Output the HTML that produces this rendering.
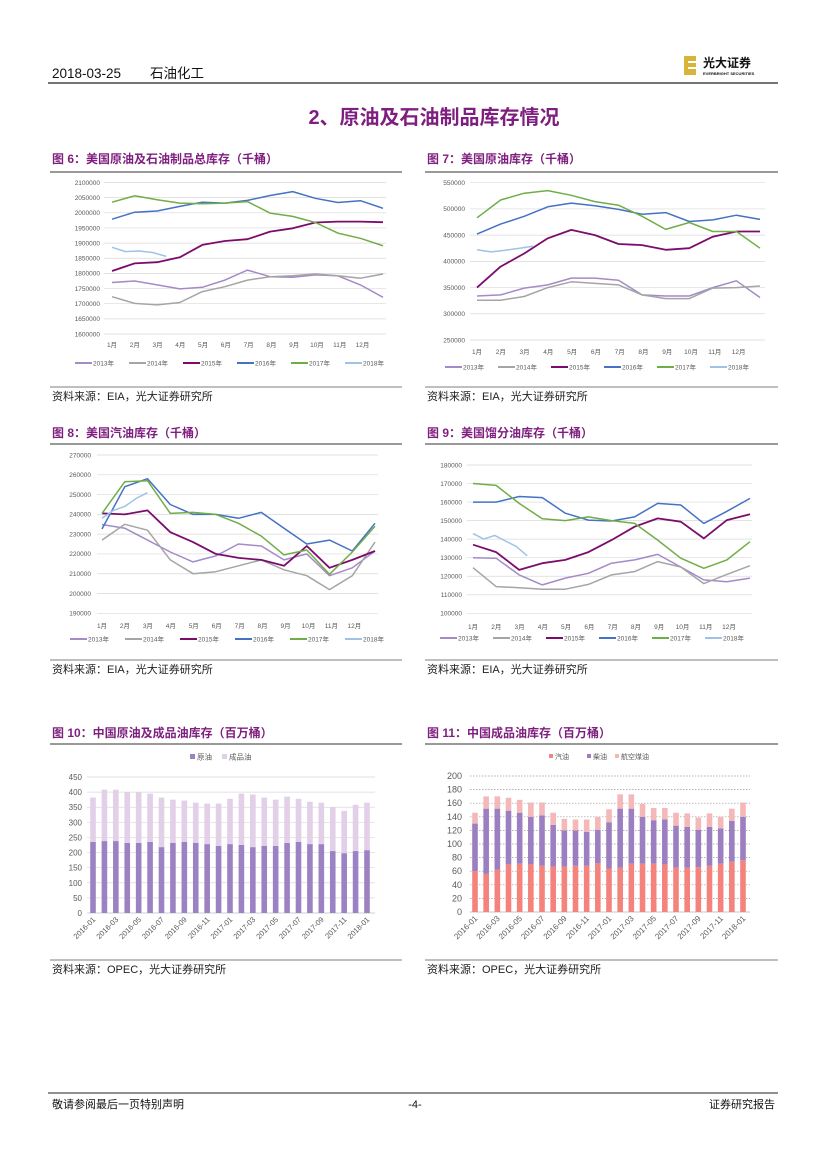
<!DOCTYPE html>
<html><head><meta charset="utf-8">
<style>
html,body{margin:0;padding:0;background:#fff;}
svg{display:block;font-family:"Liberation Sans","Noto Sans CJK SC",sans-serif;}
.cjk{font-family:"Liberation Sans","Noto Sans CJK SC",sans-serif;}
.tick{font-size:6.5px;fill:#595959;}
.ftitle{font-size:12px;font-weight:bold;fill:#7E1E7E;}
.src{font-size:11px;fill:#222;}
</style></head>
<body>
<svg id="page" width="827" height="1169" viewBox="0 0 827 1169" xmlns="http://www.w3.org/2000/svg">
<g>
<text x="52" y="78" font-size="13.5" fill="#111">2018-03-25</text>
<text x="150" y="78" font-size="13.5" fill="#111">石油化工</text>
<line x1="48" y1="83" x2="778" y2="83" stroke="#222" stroke-width="1.2"/>
<rect x="684" y="56" width="12" height="19" fill="#D9B43A"/>
<rect x="688" y="61" width="8" height="2" fill="#fff"/><rect x="688" y="67" width="8" height="2" fill="#fff"/>
<text x="703" y="67" font-size="12" font-weight="bold" fill="#111">光大证券</text>
<text x="703" y="75" font-size="4" font-weight="bold" fill="#111">EVERBRIGHT SECURITIES</text>
</g>
<text x="434" y="124" text-anchor="middle" font-size="20" font-weight="bold" fill="#7E1E7E">2、原油及石油制品库存情况</text>
<g id="frames"></g>
<g id="charts"></g>
<g>
<line x1="48" y1="1093" x2="778" y2="1093" stroke="#222" stroke-width="1"/>
<text x="52" y="1108" font-size="11" fill="#111">敬请参阅最后一页特别声明</text>
<text x="415" y="1108" font-size="11" text-anchor="middle" fill="#111">-4-</text>
<text x="775" y="1108" font-size="11" text-anchor="end" fill="#111">证券研究报告</text>
</g>
</svg>
<script>
// ===== Chart 6 data (thousand barrels) =====
const c6_2013=[1770,1775,1762,1749,1754,1778,1811,1789,1787,1795,1792,1762,1721];
const c6_2014=[1723,1701,1696,1704,1740,1756,1778,1789,1792,1798,1792,1784,1798];
const c6_2015=[1808,1833,1837,1853,1894,1907,1913,1938,1949,1968,1971,1971,1969];
const c6_2016=[1979,2002,2006,2021,2035,2032,2041,2057,2070,2048,2034,2040,2015];
const c6_2017=[2035,2056,2043,2032,2030,2032,2037,1999,1988,1968,1933,1916,1891];
const c6_2018=[1886,1872,1874,1869,1856];
const c6_ticks=[1600000,1650000,1700000,1750000,1800000,1850000,1900000,1950000,2000000,2050000,2100000];
// ===== Chart 7 data =====
const c7_2013=[334,336,349,355,368,368,364,336,334,334,350,363,331];
const c7_2014=[326,326,333,350,361,358,355,336,329,329,349,350,353];
const c7_2015=[350,390,415,444,460,450,433,431,422,425,447,457,457];
const c7_2016=[452,471,486,504,511,506,499,490,493,476,479,488,480];
const c7_2017=[483,517,530,535,526,514,507,486,461,474,457,457,425];
const c7_2018=[422,418,421,425,429];
const c7_ticks=[250000,300000,350000,400000,450000,500000,550000];
// ===== Chart 8 data =====
const c8_2013=[234.9,233,227,221,216,219,225,224,217,220,209,213,221.5];
const c8_2014=[227,235,232,217,210,211,214,217,212,209,202,209,226];
const c8_2015=[240.5,240,242,231,226,220,218,217,214,224,213,217,221.5];
const c8_2016=[232.6,254,258,245,240,240,238,241,233,225,227,221.5,235.5];
const c8_2017=[240.5,256.5,257,240.5,241,240,235.5,229,219.5,222,209.7,221,234];
const c8_2018=[238,242,244,248,251];
const c8_ticks=[190000,200000,210000,220000,230000,240000,250000,260000,270000];
// ===== Chart 9 data =====
const c9_2013=[130,129.7,120.7,115.3,119,121.6,127,128.8,131.8,125,118,117,119];
const c9_2014=[124.6,114.4,113.8,113,113,115.6,120.7,122.5,127.9,125,116,121,125.7];
const c9_2015=[137,133,123.4,127,128.8,133,139.5,146.7,151.2,149.4,140.4,150.3,153.4];
const c9_2016=[160,160,163,162.4,154,150.3,149.8,152,159.3,158.4,148.5,155,162];
const c9_2017=[170,169,159.3,151,150,152,150,148.5,139.5,129.7,124.3,128.8,138.6];
const c9_2018=[143,140,142,139,136,131];
const c9_ticks=[100000,110000,120000,130000,140000,150000,160000,170000,180000];
const monthLabels=['1月','2月','3月','4月','5月','6月','7月','8月','9月','10月','11月','12月'];
const yearNames=['2013年','2014年','2015年','2016年','2017年','2018年'];
// ===== Chart 10 data (million barrels) =====
const c10_months=['2016-01','2016-02','2016-03','2016-04','2016-05','2016-06','2016-07','2016-08','2016-09','2016-10','2016-11','2016-12','2017-01','2017-02','2017-03','2017-04','2017-05','2017-06','2017-07','2017-08','2017-09','2017-10','2017-11','2017-12','2018-01'];
const c10_crude=[235,238,238,232,232,235,218,232,235,232,228,222,228,225,218,222,222,232,235,228,228,205,198,205,208];
const c10_total=[382,408,408,400,400,395,382,375,372,365,362,362,378,395,392,382,375,385,378,368,365,350,338,358,365];
const c10_ticks=[0,50,100,150,200,250,300,350,400,450];
// ===== Chart 11 data =====
const c11_gasoline=[60,56,62,70,71,70,68,67,67,68,68,72,64,65,71,71,71,70,65,65,66,68,71,74,76];
const c11_diesel=[70,96,90,79,75,70,74,61,53,52,50,49,68,87,81,69,64,66,62,60,55,57,52,60,64];
const c11_jet=[16,18,18,19,19,21,19,18,17,16,18,19,19,21,21,19,18,17,19,20,18,20,17,18,21];
const c11_ticks=[0,20,40,60,80,100,120,140,160,180,200];

const NS='http://www.w3.org/2000/svg';
function mk(tag,attrs,parent){const e=document.createElementNS(NS,tag);for(const k in attrs)e.setAttribute(k,attrs[k]);if(parent)parent.appendChild(e);return e;}
const page=document.getElementById('page');
const frames=document.getElementById('frames');
const charts=document.getElementById('charts');

// figure titles & source lines
const figs=[
 {x:52,x2:402,ty:163,ly:172,sy:387,title:'图 6：美国原油及石油制品总库存（千桶）',src:'资料来源：EIA，光大证券研究所'},
 {x:427,x2:778,ty:163,ly:172,sy:387,title:'图 7：美国原油库存（千桶）',src:'资料来源：EIA，光大证券研究所'},
 {x:52,x2:402,ty:437,ly:444,sy:660,title:'图 8：美国汽油库存（千桶）',src:'资料来源：EIA，光大证券研究所'},
 {x:427,x2:778,ty:437,ly:444,sy:660,title:'图 9：美国馏分油库存（千桶）',src:'资料来源：EIA，光大证券研究所'},
 {x:52,x2:402,ty:737,ly:744,sy:960,title:'图 10：中国原油及成品油库存（百万桶）',src:'资料来源：OPEC，光大证券研究所'},
 {x:427,x2:778,ty:737,ly:744,sy:960,title:'图 11：中国成品油库存（百万桶）',src:'资料来源：OPEC，光大证券研究所'}
];
figs.forEach((f,i)=>{
 const t=mk('text',{x:f.x,y:f.ty,class:'ftitle'},frames);t.textContent=f.title;
 
 
 mk('line',{x1:f.x-2,y1:f.ly,x2:f.x2,y2:f.ly,stroke:'#333','stroke-width':1},frames);
 mk('line',{x1:f.x-2,y1:f.sy,x2:f.x2,y2:f.sy,stroke:'#555','stroke-width':0.8},frames);
 const s=mk('text',{x:f.x,y:f.sy+13,class:'src'},frames);s.textContent=f.src;
 
 
});

const yearColors=['#A48AC9','#A5A5A5','#7B0C6C','#4472C4','#70AD47','#9DC3E6'];

function lineChart(c){
 const g=mk('g',{},charts);
 
 
 const ymin=c.ticks[0],ymax=c.ticks[c.ticks.length-1];
 const Y=v=>c.yb+(v*c.scale-ymin)/(ymax-ymin)*(c.yt-c.yb);
 const X=i=>c.dx0+i*(c.dx1-c.dx0)/12;
 const XM=m=>c.dx0+m*(c.dx1-c.dx0)/11.9;
 c.ticks.forEach(t=>{
  const gl=mk('line',{x1:c.gx0,x2:c.gx1,y1:Y(t/c.scale),y2:Y(t/c.scale),stroke:'#D9D9D9','stroke-width':0.7},g);
  
  
  const tx=mk('text',{x:c.lx,y:Y(t/c.scale)+2.3,'text-anchor':'end',class:'tick'},g);tx.textContent=String(t);
  
  
 });
 monthLabels.forEach((m,i)=>{
  const tx=mk('text',{x:XM(i),y:c.my,'text-anchor':'middle',class:'tick'},g);tx.textContent=m;
  
  
 });
 c.series.forEach((s,k)=>{
  const dt=(k===5)?c.dt18:1;
  const d=s.map((v,i)=>(i?'L':'M')+X(i*dt).toFixed(1)+' '+Y(v).toFixed(1)).join(' ');
  const p=mk('path',{d:d,fill:'none',stroke:yearColors[k],'stroke-width':k===2?1.8:1.5,'stroke-linejoin':'round'},g);
  
  
  const lx=c.legX+k*c.legStep;
  const ll=mk('line',{x1:lx,x2:lx+17,y1:c.legY,y2:c.legY,stroke:yearColors[k],'stroke-width':2},g);
  
  
  const lt=mk('text',{x:lx+18,y:c.legY+2.5,class:'tick'},g);lt.textContent=yearNames[k];
  
  
 });
}
lineChart({name:'chart-6-total-inventory',ticks:c6_ticks,scale:1000,yb:334,yt:182.5,gx0:104,gx1:386,lx:100,dx0:112,dx1:383,my:347,legX:75,legY:363,legStep:54,dt18:0.6,
 series:[c6_2013,c6_2014,c6_2015,c6_2016,c6_2017,c6_2018]});
lineChart({name:'chart-7-crude-inventory',ticks:c7_ticks,scale:1000,yb:340,yt:182.7,gx0:470,gx1:765,lx:465,dx0:477,dx1:760,my:354,legX:445,legY:367,legStep:53,dt18:0.6,
 series:[c7_2013,c7_2014,c7_2015,c7_2016,c7_2017,c7_2018]});
lineChart({name:'chart-8-gasoline-inventory',ticks:c8_ticks,scale:1000,yb:613.3,yt:455,gx0:97,gx1:378,lx:91,dx0:102,dx1:375,my:628,legX:70,legY:639,legStep:55,dt18:0.5,
 series:[c8_2013,c8_2014,c8_2015,c8_2016,c8_2017,c8_2018]});
lineChart({name:'chart-9-distillate-inventory',ticks:c9_ticks,scale:1000,yb:613.3,yt:465,gx0:467,gx1:752,lx:462,dx0:473,dx1:750,my:629,legX:440,legY:638,legStep:53,dt18:0.47,
 series:[c9_2013,c9_2014,c9_2015,c9_2016,c9_2017,c9_2018]});

function barAxes(g,c){
 const Y=v=>c.y0+(v/c.ymax)*(c.ytop-c.y0);
 c.ticks.forEach(t=>{
  if(t>0||c.dash){
   const gl=mk('line',{x1:c.ax0,x2:c.ax1,y1:Y(t),y2:Y(t),stroke:c.dash?'#9a9a9a':'#D9D9D9','stroke-width':0.7},g);
   if(c.dash)gl.setAttribute('stroke-dasharray','1.5,1.5');
   
   
  }
  const tx=mk('text',{x:c.lx,y:Y(t)+3,'text-anchor':'end',class:'tick','font-size':c.fs,style:'font-size:'+c.fs+'px'},g);tx.textContent=String(t);
  
  
 });
 mk('line',{x1:c.ax0,x2:c.ax1,y1:c.y0,y2:c.y0,stroke:'#BFBFBF','stroke-width':0.8},g);
 return Y;
}
// Chart 10
(function(){
 const c={y0:913,ytop:777,ymax:450,ax0:87,ax1:375,lx:82,ticks:c10_ticks,fs:8,dash:false};
 const g=mk('g',{},charts);
 
 
 const Y=barAxes(g,c);
 const X=i=>93+i*(367-93)/(c10_months.length-1);
 c10_months.forEach((m,i)=>{
  const b1=mk('rect',{x:X(i)-2.8,y:Y(c10_crude[i]),width:5.6,height:c.y0-Y(c10_crude[i]),fill:'#9C82C2'},g);
  
  
  const b2=mk('rect',{x:X(i)-2.8,y:Y(c10_total[i]),width:5.6,height:Y(c10_crude[i])-Y(c10_total[i]),fill:'#E2CFE8'},g);
  
  
  if(i%2===0){
   const tx=mk('text',{x:X(i)+3,y:c.y0+7,'text-anchor':'end',class:'tick',transform:'rotate(-45 '+(X(i)+3)+' '+(c.y0+7)+')',style:'font-size:7.5px'},g);tx.textContent=m;
   
   
  }
 });
 [['原油','#9C82C2',190],['成品油','#E2CFE8',222]].forEach(l=>{
  const r=mk('rect',{x:l[2],y:754,width:5,height:5,fill:l[1]},g);
  
  
  const t=mk('text',{x:l[2]+7,y:759.5,class:'tick',style:'font-size:7.5px'},g);t.textContent=l[0];
  
  
 });
})();
// Chart 11
(function(){
 const c={y0:912,ytop:776,ymax:200,ax0:470,ax1:750,lx:462,ticks:c11_ticks,fs:9,dash:true};
 const g=mk('g',{},charts);
 
 
 const Y=barAxes(g,c);
 const X=i=>475+i*(743-475)/(c10_months.length-1);
 const cols=['#F4837D','#9C7FC1','#F4B8B8'];
 c10_months.forEach((m,i)=>{
  let base=0;
  [c11_gasoline,c11_diesel,c11_jet].forEach((arr,k)=>{
   const v=arr[i];
   const r=mk('rect',{x:X(i)-2.8,y:Y(base+v),width:5.6,height:Y(base)-Y(base+v),fill:cols[k]},g);
   
   
   base+=v;
  });
  if(i%2===0){
   const tx=mk('text',{x:X(i)+3,y:c.y0+7,'text-anchor':'end',class:'tick',transform:'rotate(-45 '+(X(i)+3)+' '+(c.y0+7)+')',style:'font-size:8px'},g);tx.textContent=m;
   
   
  }
 });
 [['汽油',cols[0],549],['柴油',cols[1],587],['航空煤油',cols[2],615]].forEach(l=>{
  const r=mk('rect',{x:l[2],y:754,width:4,height:4,fill:l[1]},g);
  
  
  const t=mk('text',{x:l[2]+6,y:759,class:'tick',style:'font-size:7px'},g);t.textContent=l[0];
  
  
 });
})();
</script>
</body></html>
